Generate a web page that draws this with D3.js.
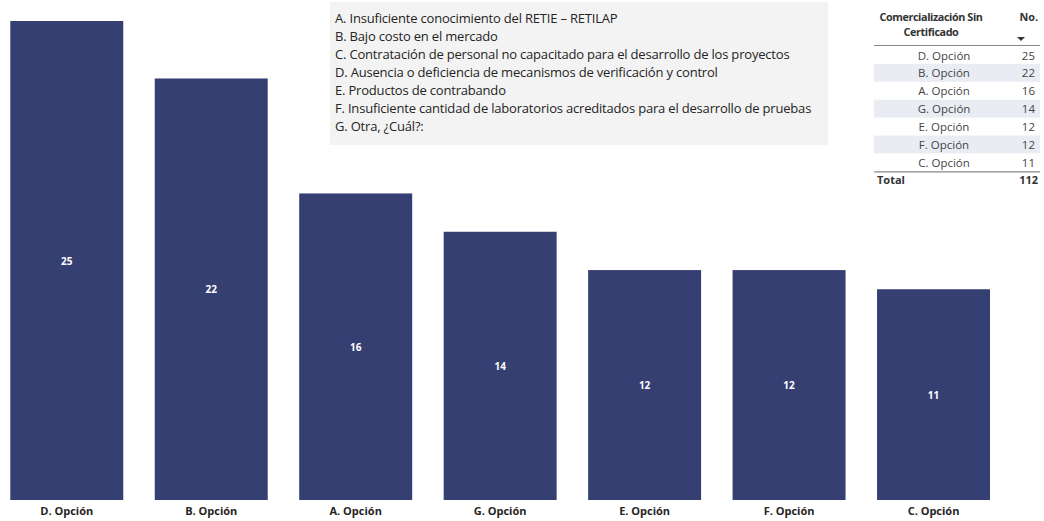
<!DOCTYPE html>
<html><head><meta charset="utf-8">
<script src="https://cdn.jsdelivr.net/npm/d3@7"></script>
<style>
body{margin:0;background:#fff;}
svg{display:block;font-family:"Open Sans","Noto Sans",sans-serif;}
</style></head>
<body>
<svg id="c" width="1044" height="521"></svg>
<script>
const categories = ["D. Opción","B. Opción","A. Opción","G. Opción","E. Opción","F. Opción","C. Opción"];
const values = [25,22,16,14,12,12,11];
const legendLines = [
  "A. Insuficiente conocimiento del RETIE – RETILAP",
  "B. Bajo costo en el mercado",
  "C. Contratación de personal no capacitado para el desarrollo de los proyectos",
  "D. Ausencia o deficiencia de mecanismos de verificación y control",
  "E. Productos de contrabando",
  "F. Insuficiente cantidad de laboratorios acreditados para el desarrollo de pruebas",
  "G. Otra, ¿Cuál?:"
];
const tableHeader = ["Comercialización Sin", "Certificado"];
const totalLabel = "Total";

const svg = d3.select("#c");
const barColor = "#363f72";

const x = d3.scaleBand().domain(categories).range([10.3, 990]).paddingInner(0.218).paddingOuter(0);
const y = d3.scaleLinear().domain([0, 25]).range([500, 21]);

svg.selectAll("rect.bar").data(categories).join("rect")
  .attr("class","bar")
  .attr("x", d => x(d)).attr("width", x.bandwidth())
  .attr("y", (d,i) => y(values[i])).attr("height", (d,i) => y(0) - y(values[i]))
  .attr("fill", barColor);

svg.selectAll("text.vl").data(categories).join("text")
  .attr("class","vl")
  .attr("x", d => x(d) + x.bandwidth()/2)
  .attr("y", (d,i) => (y(values[i]) + y(0))/2 + 4)
  .attr("text-anchor","middle").attr("fill","#fff")
  .attr("font-size","10px").attr("font-weight","bold")
  .text((d,i) => values[i]);

const xAxis = d3.axisBottom(x).tickSize(0).tickPadding(7);
const gx = svg.append("g").attr("transform","translate(0,500)").call(xAxis);
gx.select(".domain").remove();
gx.selectAll("text").attr("font-size","11px").attr("font-weight","bold").attr("fill","#252423")
  .attr("font-family","'Open Sans','Noto Sans',sans-serif");

// legend box
svg.append("rect").attr("x",330).attr("y",2).attr("width",498).attr("height",143).attr("fill","#f3f3f3");
svg.selectAll("text.lg").data(legendLines).join("text").attr("class","lg")
  .attr("x",335).attr("y",(d,i)=>23 + i*18)
  .attr("font-size","13px").attr("fill","#252423")
  .attr("letter-spacing","-0.19px")
  .text(d=>d);

// table
const tx0 = 874, tx1 = 1040;
svg.selectAll("text.th").data(tableHeader).join("text").attr("class","th")
  .attr("x",931).attr("y",(d,i)=>21+i*15).attr("text-anchor","middle")
  .attr("font-size","10.8px").attr("font-weight","bold").attr("fill","#333")
  .attr("letter-spacing","-0.4px")
  .text(d=>d);
svg.append("text").attr("x",1038).attr("y",21).attr("text-anchor","end")
  .attr("font-size","10.8px").attr("font-weight","bold").attr("fill","#333").text("No.");
svg.append("path").attr("d","M1017,37 L1025,37 L1021,41 Z").attr("fill","#333");
svg.append("line").attr("x1",tx0).attr("x2",tx1).attr("y1",45.5).attr("y2",45.5).attr("stroke","#888").attr("stroke-width",1.2);

const rowH = 17.9, r0 = 46;
const rows = svg.selectAll("g.row").data(categories).join("g").attr("class","row")
  .attr("transform",(d,i)=>`translate(0,${r0 + i*rowH})`);
rows.append("rect").attr("x",tx0).attr("width",tx1-tx0).attr("height",rowH)
  .attr("fill",(d,i)=> i%2 ? "#e9edf3" : "none");
rows.append("text").attr("x",944).attr("y",13.5).attr("text-anchor","middle")
  .attr("font-size","11.5px").attr("fill","#444").text(d=>d);
rows.append("text").attr("x",1035).attr("y",13.5).attr("text-anchor","end")
  .attr("font-size","11.5px").attr("fill","#444").text((d,i)=>values[i]);
const tyEnd = r0 + categories.length*rowH;
svg.append("line").attr("x1",tx0).attr("x2",tx1).attr("y1",tyEnd+0.5).attr("y2",tyEnd+0.5).attr("stroke","#888").attr("stroke-width",1.2);
svg.append("text").attr("x",877).attr("y",tyEnd+13).attr("font-size","11px").attr("font-weight","bold").attr("fill","#333").text(totalLabel);
svg.append("text").attr("x",1038).attr("y",tyEnd+13).attr("text-anchor","end").attr("font-size","11px").attr("font-weight","bold").attr("fill","#333").text(d3.sum(values));
</script>
</body></html>
